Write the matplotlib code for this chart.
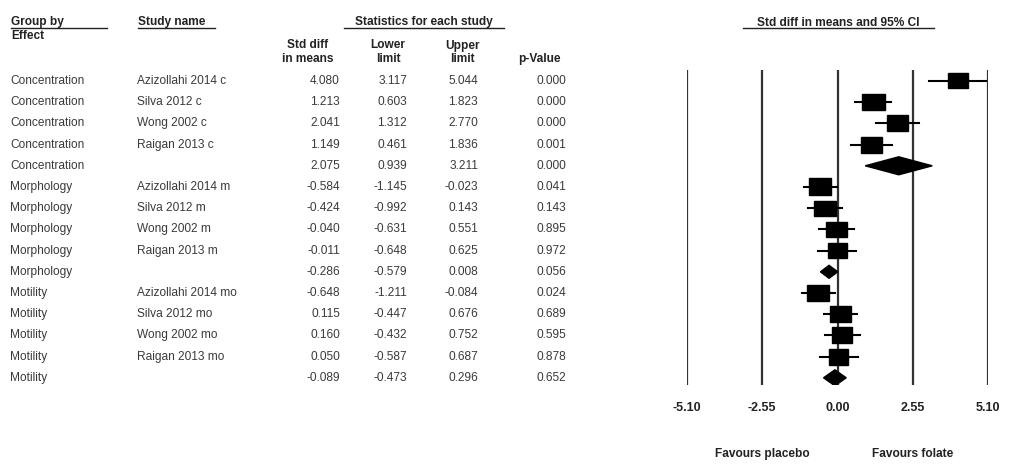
import numpy as np
import matplotlib
matplotlib.use("Agg")
import matplotlib.pyplot as plt
from matplotlib.patches import Rectangle, Polygon
from matplotlib.lines import Line2D
import matplotlib.transforms as mtransforms

plt.rcParams['font.family'] = ['Liberation Sans', 'DejaVu Sans']

# forest plot data
groups = ['Concentration'] * 5 + ['Morphology'] * 5 + ['Motility'] * 5
studies = ['Azizollahi 2014 c', 'Silva 2012 c', 'Wong 2002 c', 'Raigan 2013 c', '',
           'Azizollahi 2014 m', 'Silva 2012 m', 'Wong 2002 m', 'Raigan 2013 m', '',
           'Azizollahi 2014 mo', 'Silva 2012 mo', 'Wong 2002 mo', 'Raigan 2013 mo', '']
smd = [4.080, 1.213, 2.041, 1.149, 2.075,
       -0.584, -0.424, -0.040, -0.011, -0.286,
       -0.648, 0.115, 0.160, 0.050, -0.089]
lower = [3.117, 0.603, 1.312, 0.461, 0.939,
         -1.145, -0.992, -0.631, -0.648, -0.579,
         -1.211, -0.447, -0.432, -0.587, -0.473]
upper = [5.044, 1.823, 2.770, 1.836, 3.211,
         -0.023, 0.143, 0.551, 0.625, 0.008,
         -0.084, 0.676, 0.752, 0.687, 0.296]
pvals = [0.000, 0.000, 0.000, 0.001, 0.000,
         0.041, 0.143, 0.895, 0.972, 0.056,
         0.024, 0.689, 0.595, 0.878, 0.652]
summary = [s == '' for s in studies]
ticks = [-5.10, -2.55, 0.00, 2.55, 5.10]

# marker sizes (pixels)
box_w = [20, 23, 21, 21, 0, 22, 22, 21, 19, 0, 22, 21, 20, 19, 0]
box_h = [15, 16, 16, 16, 18, 17, 15, 15, 15, 13, 16, 16, 16, 16, 16]

W, H = 1016, 468
fig = plt.figure(figsize=(W / 100, H / 100), dpi=100)

x0, x1 = 687, 988      # pixel span of the -5.10 .. 5.10 axis
ytop, ybot = 70, 385   # vertical extent of the plot area
row0, drow = 81, 21.2  # first row centre and spacing
ax = fig.add_axes([x0 / W, 1 - ybot / H, (x1 - x0) / W, (ybot - ytop) / H])
ax.set_xlim(ticks[0], ticks[-1])
ax.set_ylim((ybot - row0) / drow, (ytop - row0) / drow)
for s in ax.spines.values():
    s.set_visible(False)
ax.set_yticks([])
ax.set_xticks(ticks)
ax.set_xticklabels(['%.2f' % t for t in ticks], fontweight='bold', fontsize=9, color='#222222')
ax.tick_params(axis='x', length=0, pad=12)
for t in ticks:
    ax.axvline(t, color='#333333', lw=1.6, zorder=1)

upx = (x1 - x0) / (ticks[-1] - ticks[0])
for i in range(len(smd)):
    if summary[i]:
        hh = box_h[i] / drow / 2
        d = Polygon([(lower[i], i), (smd[i], i - hh), (upper[i], i), (smd[i], i + hh)],
                    closed=True, facecolor='black', edgecolor='black', zorder=3)
        ax.add_patch(d)
    else:
        ax.plot([lower[i], upper[i]], [i, i], color='black', lw=1.5, zorder=2)
        w = box_w[i] / upx
        h = box_h[i] / drow
        ax.add_patch(Rectangle((smd[i] - w / 2, i - h / 2), w, h,
                               facecolor='black', edgecolor='black', zorder=3))

# table on the left, rows aligned with the plot rows
tr = mtransforms.blended_transform_factory(fig.transFigure, ax.transData)
txt = dict(fontsize=8.6, color='#3a3a3a', va='center', transform=tr)
for i in range(len(smd)):
    fig.text(10 / W, i, groups[i], ha='left', **txt)
    fig.text(137 / W, i, studies[i], ha='left', **txt)
    fig.text(340 / W, i, '%.3f' % smd[i], ha='right', **txt)
    fig.text(407 / W, i, '%.3f' % lower[i], ha='right', **txt)
    fig.text(478 / W, i, '%.3f' % upper[i], ha='right', **txt)
    fig.text(566 / W, i, '%.3f' % pvals[i], ha='right', **txt)

hd = dict(fontsize=8.6, fontweight='bold', color='#222222', va='baseline')


def ftext(x, y, s, **kw):
    fig.text(x / W, 1 - y / H, s, **kw)


def uline(xa, xb, y):
    fig.add_artist(Line2D([xa / W, xb / W], [1 - y / H, 1 - y / H],
                          transform=fig.transFigure, color='#222222', lw=1))


ftext(11, 25.5, 'Group by', ha='left', **hd)
uline(11, 107, 27.5)
ftext(11, 39, 'Effect', ha='left', **hd)
ftext(138, 25.5, 'Study name', ha='left', **hd)
uline(138, 215, 27.5)
ftext(424, 25.5, 'Statistics for each study', ha='center', **hd)
uline(344, 504, 27.5)
ftext(308, 48.5, 'Std diff', ha='center', **hd)
ftext(308, 62, 'in means', ha='center', **hd)
ftext(388, 48.5, 'Lower', ha='center', **hd)
ftext(388, 62, 'limit', ha='center', **hd)
ftext(462, 48.5, 'Upper', ha='center', **hd)
ftext(462, 62, 'limit', ha='center', **hd)
ftext(539, 62, 'p-Value', ha='center', **hd)

ftext(838, 26, 'Std diff in means and 95% CI', ha='center', **hd)
uline(743, 934, 28)

tf = mtransforms.blended_transform_factory(ax.transData, fig.transFigure)
fig.text(-2.55, 1 - 457 / H, 'Favours placebo', ha='center', transform=tf, **hd)
fig.text(2.55, 1 - 457 / H, 'Favours folate', ha='center', transform=tf, **hd)

fig.savefig('out.png', dpi=100, facecolor='white')
